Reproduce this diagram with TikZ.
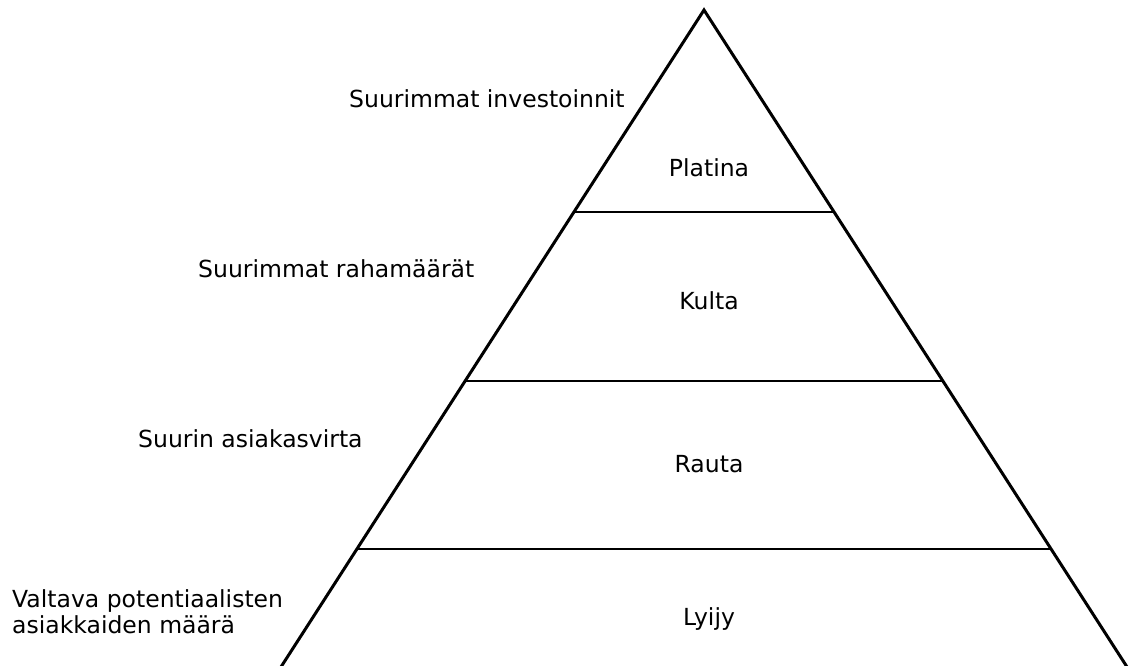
\documentclass[tikz,border=0pt]{standalone}
\usepackage{fontspec}
\setmainfont{DejaVu Sans}
\usetikzlibrary{calc}

\begin{document}
\begin{tikzpicture}[
  x=1pt, y=-1pt,
  edge/.style={line width=3pt, line join=miter},
  level/.style={line width=2.8pt},
  tier/.style={font=\fontsize{23.5}{26}\selectfont, anchor=base},
  note/.style={font=\fontsize{23.5}{26}\selectfont, anchor=base west, align=left, inner sep=0pt}
]

\useasboundingbox (0,0) rectangle (1129,665);
\clip (0,0) rectangle (1129,665);

% pyramid outline
\coordinate (top) at (704,10);
\coordinate (bl) at (274.5,677);
\coordinate (br) at (1133.5,677);
\draw[edge] (bl) -- (top) -- (br);

% levels
\coordinate (l1) at ($(top)!0.3028!(bl)$);
\coordinate (r1) at ($(top)!0.3028!(br)$);
\coordinate (l2) at ($(top)!0.5562!(bl)$);
\coordinate (r2) at ($(top)!0.5562!(br)$);
\coordinate (l3) at ($(top)!0.8081!(bl)$);
\coordinate (r3) at ($(top)!0.8081!(br)$);
\draw[level] (l1) -- (r1);
\draw[level] (l2) -- (r2);
\draw[level] (l3) -- (r3);

% tiers
\node[tier] (platina) at (709,176) {Platina};
\node[tier] (kulta) at (709,309) {Kulta};
\node[tier] (rauta) at (709,472) {Rauta};
\node[tier] (lyijy) at (709,625) {Lyijy};

% side notes
\node[note] (invest) at (349,107) {Suurimmat investoinnit};
\node[note] (raha) at (198,277) {Suurimmat rahamäärät};
\node[note] (virta) at (138,447) {Suurin asiakasvirta};
\node[note] (potent) at (12,633) {Valtava potentiaalisten\\asiakkaiden määrä};

\end{tikzpicture}
\end{document}
